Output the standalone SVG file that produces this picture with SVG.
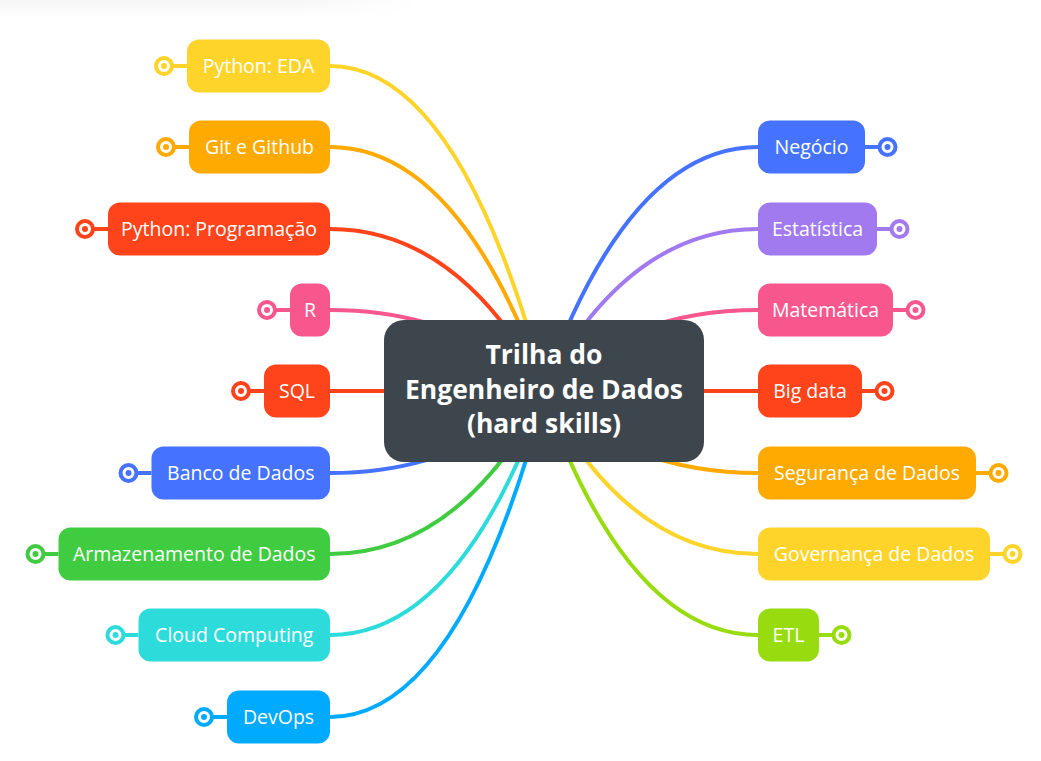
<svg xmlns="http://www.w3.org/2000/svg" width="1041" height="761" viewBox="0 0 1041 761">
<defs>
<style>
.c{fill:none;stroke-width:4;stroke-linecap:round}
.n{rx:12;ry:12}
.t{font-family:"Open Sans","Noto Sans","Liberation Sans",sans-serif;font-size:19.5px;fill:#ffffff;text-anchor:middle}
.ring{fill:#ffffff;stroke-width:4}
.stub{stroke-width:4}
.root{font-family:"Open Sans","Noto Sans","Liberation Sans",sans-serif;font-size:26.5px;font-weight:700;fill:#ffffff;text-anchor:middle}
</style>
<linearGradient id="sh" x1="0" y1="0" x2="0" y2="1">
<stop offset="0" stop-color="#000" stop-opacity="0.035"/>
<stop offset="1" stop-color="#000" stop-opacity="0"/>
</linearGradient>
<linearGradient id="shm" x1="0" y1="0" x2="1" y2="0">
<stop offset="0" stop-color="#fff" stop-opacity="1"/>
<stop offset="0.7" stop-color="#fff" stop-opacity="1"/>
<stop offset="1" stop-color="#fff" stop-opacity="0"/>
</linearGradient>
<mask id="shmask"><rect x="0" y="0" width="420" height="18" fill="url(#shm)"/></mask>
</defs>
<rect width="1041" height="761" fill="#ffffff"/>
<rect x="0" y="0" width="420" height="18" fill="url(#sh)" mask="url(#shmask)"/>

<g id="connectors">
<path class="c" stroke="#FFD42A" d="M330,66 Q459.6,66 546,391"/>
<path class="c" stroke="#FFAA00" d="M330,147 Q459.6,147 546,391"/>
<path class="c" stroke="#FF431A" d="M330,229 Q459.6,229 546,391"/>
<path class="c" stroke="#F7578C" d="M330,310 Q459.6,310 546,391"/>
<path class="c" stroke="#FF431A" d="M330,391 L546,391"/>
<path class="c" stroke="#4573FF" d="M330,473 Q459.6,473 546,391"/>
<path class="c" stroke="#40CC40" d="M330,554 Q459.6,554 546,391"/>
<path class="c" stroke="#2DDBDB" d="M330,635 Q459.6,635 546,391"/>
<path class="c" stroke="#00AAFF" d="M330,717 Q459.6,717 546,391"/>
<path class="c" stroke="#4573FF" d="M758,147 Q628.4,147 542,391"/>
<path class="c" stroke="#A17AF0" d="M758,229 Q628.4,229 542,391"/>
<path class="c" stroke="#F7578C" d="M758,310 Q628.4,310 542,391"/>
<path class="c" stroke="#FF431A" d="M758,391 L542,391"/>
<path class="c" stroke="#FFAA00" d="M758,473 Q628.4,473 542,391"/>
<path class="c" stroke="#FFD42A" d="M758,554 Q628.4,554 542,391"/>
<path class="c" stroke="#98DC10" d="M758,635 Q628.4,635 542,391"/>
</g>

<g id="root">
<rect x="384" y="320" width="320" height="142" rx="20" ry="20" fill="#3E464D"/>
<text class="root" x="544" y="364">Trilha do</text>
<text class="root" x="544" y="399">Engenheiro de Dados</text>
<text class="root" x="544" y="433">(hard skills)</text>
</g>

<g id="n-python-eda">
<line class="stub" stroke="#FFD42A" x1="164" y1="66" x2="187" y2="66"/>
<circle class="ring" stroke="#FFD42A" cx="164" cy="66" r="8"/>
<circle fill="#FFD42A" cx="164" cy="66" r="3"/>
<rect class="n" fill="#FFD42A" x="187" y="39.5" width="143" height="53"/>
<text class="t" x="258.5" y="73">Python: EDA</text>
</g>
<g id="n-git">
<line class="stub" stroke="#FFAA00" x1="166" y1="147" x2="189" y2="147"/>
<circle class="ring" stroke="#FFAA00" cx="166" cy="147" r="8"/>
<circle fill="#FFAA00" cx="166" cy="147" r="3"/>
<rect class="n" fill="#FFAA00" x="189" y="120.5" width="141" height="53"/>
<text class="t" x="259.5" y="154">Git e Github</text>
</g>
<g id="n-python-prog">
<line class="stub" stroke="#FF431A" x1="85" y1="229" x2="108" y2="229"/>
<circle class="ring" stroke="#FF431A" cx="85" cy="229" r="8"/>
<circle fill="#FF431A" cx="85" cy="229" r="3"/>
<rect class="n" fill="#FF431A" x="108" y="202.5" width="222" height="53"/>
<text class="t" x="219" y="236">Python: Programação</text>
</g>
<g id="n-r">
<line class="stub" stroke="#F7578C" x1="267" y1="310" x2="290" y2="310"/>
<circle class="ring" stroke="#F7578C" cx="267" cy="310" r="8"/>
<circle fill="#F7578C" cx="267" cy="310" r="3"/>
<rect class="n" fill="#F7578C" x="290" y="283.5" width="40" height="53"/>
<text class="t" x="310" y="317">R</text>
</g>
<g id="n-sql">
<line class="stub" stroke="#FF431A" x1="241" y1="391" x2="264" y2="391"/>
<circle class="ring" stroke="#FF431A" cx="241" cy="391" r="8"/>
<circle fill="#FF431A" cx="241" cy="391" r="3"/>
<rect class="n" fill="#FF431A" x="264" y="364.5" width="66" height="53"/>
<text class="t" x="297" y="398">SQL</text>
</g>
<g id="n-banco">
<line class="stub" stroke="#4573FF" x1="128.5" y1="473" x2="151.5" y2="473"/>
<circle class="ring" stroke="#4573FF" cx="128.5" cy="473" r="8"/>
<circle fill="#4573FF" cx="128.5" cy="473" r="3"/>
<rect class="n" fill="#4573FF" x="151.5" y="446.5" width="178.5" height="53"/>
<text class="t" x="240.75" y="480">Banco de Dados</text>
</g>
<g id="n-armazenamento">
<line class="stub" stroke="#40CC40" x1="35.5" y1="554" x2="58.5" y2="554"/>
<circle class="ring" stroke="#40CC40" cx="35.5" cy="554" r="8"/>
<circle fill="#40CC40" cx="35.5" cy="554" r="3"/>
<rect class="n" fill="#40CC40" x="58.5" y="527.5" width="271.5" height="53"/>
<text class="t" x="194.25" y="561">Armazenamento de Dados</text>
</g>
<g id="n-cloud">
<line class="stub" stroke="#2DDBDB" x1="115.5" y1="635" x2="138.5" y2="635"/>
<circle class="ring" stroke="#2DDBDB" cx="115.5" cy="635" r="8"/>
<circle fill="#2DDBDB" cx="115.5" cy="635" r="3"/>
<rect class="n" fill="#2DDBDB" x="138.5" y="608.5" width="191.5" height="53"/>
<text class="t" x="234.25" y="642">Cloud Computing</text>
</g>
<g id="n-devops">
<line class="stub" stroke="#00AAFF" x1="204" y1="717" x2="227" y2="717"/>
<circle class="ring" stroke="#00AAFF" cx="204" cy="717" r="8"/>
<circle fill="#00AAFF" cx="204" cy="717" r="3"/>
<rect class="n" fill="#00AAFF" x="227" y="690.5" width="103" height="53"/>
<text class="t" x="278.5" y="724">DevOps</text>
</g>

<g id="n-negocio">
<line class="stub" stroke="#4573FF" x1="865" y1="147" x2="887.5" y2="147"/>
<circle class="ring" stroke="#4573FF" cx="887.5" cy="147" r="8"/>
<circle fill="#4573FF" cx="887.5" cy="147" r="3"/>
<rect class="n" fill="#4573FF" x="758" y="120.5" width="107" height="53"/>
<text class="t" x="811.5" y="154">Negócio</text>
</g>
<g id="n-estatistica">
<line class="stub" stroke="#A17AF0" x1="877" y1="229" x2="899.5" y2="229"/>
<circle class="ring" stroke="#A17AF0" cx="899.5" cy="229" r="8"/>
<circle fill="#A17AF0" cx="899.5" cy="229" r="3"/>
<rect class="n" fill="#A17AF0" x="758" y="202.5" width="119" height="53"/>
<text class="t" x="817.5" y="236">Estatística</text>
</g>
<g id="n-matematica">
<line class="stub" stroke="#F7578C" x1="893" y1="310" x2="915.5" y2="310"/>
<circle class="ring" stroke="#F7578C" cx="915.5" cy="310" r="8"/>
<circle fill="#F7578C" cx="915.5" cy="310" r="3"/>
<rect class="n" fill="#F7578C" x="758" y="283.5" width="135" height="53"/>
<text class="t" x="825.5" y="317">Matemática</text>
</g>
<g id="n-bigdata">
<line class="stub" stroke="#FF431A" x1="862" y1="391" x2="884.5" y2="391"/>
<circle class="ring" stroke="#FF431A" cx="884.5" cy="391" r="8"/>
<circle fill="#FF431A" cx="884.5" cy="391" r="3"/>
<rect class="n" fill="#FF431A" x="758" y="364.5" width="104" height="53"/>
<text class="t" x="810" y="398">Big data</text>
</g>
<g id="n-seguranca">
<line class="stub" stroke="#FFAA00" x1="976" y1="473" x2="998.5" y2="473"/>
<circle class="ring" stroke="#FFAA00" cx="998.5" cy="473" r="8"/>
<circle fill="#FFAA00" cx="998.5" cy="473" r="3"/>
<rect class="n" fill="#FFAA00" x="758" y="446.5" width="218" height="53"/>
<text class="t" x="867" y="480">Segurança de Dados</text>
</g>
<g id="n-governanca">
<line class="stub" stroke="#FFD42A" x1="990" y1="554" x2="1012.5" y2="554"/>
<circle class="ring" stroke="#FFD42A" cx="1012.5" cy="554" r="8"/>
<circle fill="#FFD42A" cx="1012.5" cy="554" r="3"/>
<rect class="n" fill="#FFD42A" x="758" y="527.5" width="232" height="53"/>
<text class="t" x="874" y="561">Governança de Dados</text>
</g>
<g id="n-etl">
<line class="stub" stroke="#98DC10" x1="819" y1="635" x2="841.5" y2="635"/>
<circle class="ring" stroke="#98DC10" cx="841.5" cy="635" r="8"/>
<circle fill="#98DC10" cx="841.5" cy="635" r="3"/>
<rect class="n" fill="#98DC10" x="758" y="608.5" width="61" height="53"/>
<text class="t" x="788.5" y="642">ETL</text>
</g>
</svg>
